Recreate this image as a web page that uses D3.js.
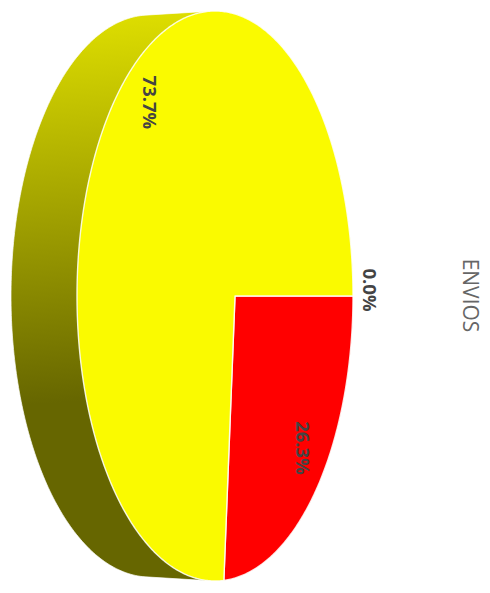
<!DOCTYPE html>
<html><head><meta charset="utf-8">
<script src="https://cdn.jsdelivr.net/npm/d3@7"></script>
<style>html,body{margin:0;padding:0;background:#fff}svg{display:block}</style>
</head><body><div id="c"></div>
<script>
const categories = ["Sin dato", "Rojo", "Amarillo"];
const values = [0, 26.3, 73.7];
const labels = ["0.0%", "26.3%", "73.7%"];
const colors = ["#00b050", "#ff0000", "#fafa00"];
const title = "ENVIOS";

const W = 490, H = 593;
const front = {cx: 215, cy: 296, rx: 138, ry: 285};
const back = {cx: 150, cy: 296, rx: 139, ry: 281};
const k = 0.145;               // perspective of the disc
const labelR = [1.165, 0.79, 0.855];
const labelDy = [-6, 0, 0];

// project unit-disc point (polar angle measured d3-style) to screen
function project(a, r) {
  const u = r * Math.sin(a), v = -r * Math.cos(a);
  const d = 1 + k * u;
  return [front.cx + front.rx * (u + k) / d,
          front.cy + front.ry * v * Math.sqrt(1 - k * k) / d];
}
const svg = d3.select("#c").append("svg").attr("width", W).attr("height", H);
const defs = svg.append("defs");
const grad = defs.append("linearGradient").attr("id", "side")
  .attr("gradientUnits", "userSpaceOnUse")
  .attr("x1", 0).attr("y1", 15).attr("x2", 25).attr("y2", 405);
grad.append("stop").attr("offset", 0).attr("stop-color", "#e0e000");
grad.append("stop").attr("offset", 1).attr("stop-color", "#666600");

const ell = e => d3.range(0, 360, 1).map(t => {
  const a = t * Math.PI / 180;
  return [e.cx + e.rx * Math.cos(a), e.cy + e.ry * Math.sin(a)];
});
const hull = d3.polygonHull(ell(back).concat(ell(front)));
const line = d3.line();
svg.append("path").attr("d", line(hull) + "Z")
  .attr("fill", "url(#side)").attr("stroke", "#fff").attr("stroke-width", 1).attr("stroke-opacity", .7);

const pie = d3.pie().sort(null).startAngle(Math.PI / 2).endAngle(Math.PI / 2 + 2 * Math.PI);
const arcs = pie(values);
arcs.forEach((s, i) => {
  if (s.endAngle - s.startAngle <= 0) return;
  const n = Math.ceil((s.endAngle - s.startAngle) / 0.01);
  const pts = [project(0, 0)];
  d3.range(n + 1).forEach(j => pts.push(project(s.startAngle + (s.endAngle - s.startAngle) * j / n, 1)));
  svg.append("path").attr("d", line(pts) + "Z").attr("fill", colors[i])
    .attr("stroke", "#fff").attr("stroke-width", 1.4).attr("stroke-opacity", .85).attr("stroke-linejoin", "round");
});
arcs.forEach((s, i) => {
  const p = project((s.startAngle + s.endAngle) / 2, labelR[i]);
  svg.append("text").attr("transform", `translate(${p[0]},${p[1] + labelDy[i]}) rotate(90)`)
    .attr("text-anchor", "middle").attr("dy", "0.35em")
    .attr("font-family", "'Open Sans',sans-serif").attr("font-weight", 700).attr("font-size", 18.5)
    .attr("fill", "#444").text(labels[i]);
});
svg.append("text").attr("transform", "translate(470,295.5) rotate(90)")
  .attr("text-anchor", "middle").attr("dy", "0.35em")
  .attr("font-family", "'Open Sans',sans-serif").attr("font-size", 21)
  .attr("fill", "#666").text(title);
</script></body></html>
